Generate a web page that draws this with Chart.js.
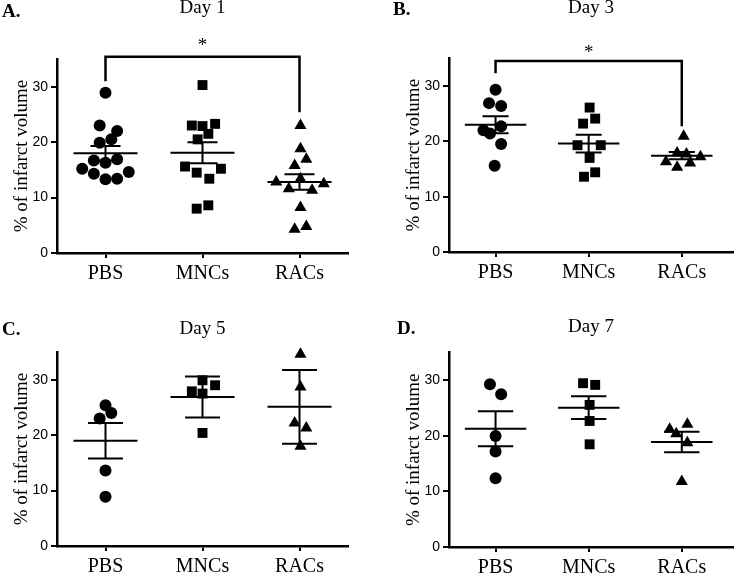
<!DOCTYPE html>
<html>
<head>
<meta charset="utf-8">
<script src="https://cdn.jsdelivr.net/npm/chart.js@4"></script>
<style>
  body { margin: 0; background: #fff; }
  canvas { position: absolute; }
</style>
</head>
<body>
<canvas id="day1" width="370" height="290" style="left:0;top:0"></canvas>
<canvas id="day3" width="370" height="290" style="left:370px;top:0"></canvas>
<canvas id="day5" width="370" height="285" style="left:0;top:290px"></canvas>
<canvas id="day7" width="370" height="285" style="left:370px;top:290px"></canvas>
<script>
var groups = ['PBS', 'MNCs', 'RACs'];
var yTicks = [0, 10, 20, 30];

// Day 1 (values in %, x offsets are the jitter within each column)
var day1Pbs = [28.9, 23.0, 22.0, 20.5, 19.9, 16.7, 16.3, 16.9, 15.2, 14.3, 14.6, 13.3, 13.4];
var day1PbsX = [0, -0.06, 0.12, 0.06, -0.06, -0.12, 0, 0.12, -0.24, -0.12, 0.24, 0, 0.12];
var day1Mnc = [30.3, 23.0, 22.9, 23.3, 21.5, 20.5, 15.6, 14.5, 13.4, 15.2, 8.0, 8.6];
var day1MncX = [0, -0.11, 0, 0.13, 0.06, -0.05, -0.18, -0.06, 0.07, 0.19, -0.06, 0.06];
var day1Rac = [23.0, 18.8, 16.9, 15.8, 13.4, 12.8, 12.5, 11.6, 11.3, 8.2, 4.3, 4.8];
var day1RacX = [0.01, 0.01, 0.07, -0.05, 0.01, -0.24, 0.25, -0.11, 0.13, 0.01, -0.05, 0.07];
var day1Mean = [18.0, 18.1, 12.8];
var day1Sem = [1.3, 1.9, 1.4];

// Day 3
var day3Pbs = [29.3, 26.9, 26.4, 22.0, 21.4, 22.7, 19.5, 15.6];
var day3PbsX = [0, -0.07, 0.06, -0.13, -0.06, 0.06, 0.06, -0.01];
var day3Mnc = [26.1, 24.1, 23.2, 19.3, 19.3, 17.0, 13.6, 14.4];
var day3MncX = [0.01, 0.07, -0.06, -0.12, 0.13, 0.01, -0.05, 0.07];
var day3Rac = [20.9, 17.9, 17.7, 17.2, 16.3, 15.3, 16.1];
var day3RacX = [0.02, -0.05, 0.05, 0.2, -0.17, -0.05, 0.09];
var day3Mean = [23.0, 19.6, 17.4];
var day3Sem = [1.55, 1.6, 0.65];

// Day 5
var day5Pbs = [25.4, 23.0, 24.0, 13.6, 8.9];
var day5PbsX = [0, -0.06, 0.06, 0, 0];
var day5Mnc = [29.9, 27.9, 29.0, 27.5, 20.4];
var day5MncX = [0, -0.11, 0.13, 0, 0];
var day5Rac = [34.6, 28.7, 22.2, 21.3, 18.0];
var day5RacX = [0.01, 0.01, -0.05, 0.07, 0.01];
var day5Mean = [19.0, 26.9, 25.1];
var day5Sem = [3.2, 3.7, 6.65];

// Day 7
var day7Pbs = [29.3, 27.5, 20.0, 17.2, 12.4];
var day7PbsX = [-0.06, 0.06, 0, 0, 0];
var day7Mnc = [29.5, 29.2, 25.6, 22.7, 18.5];
var day7MncX = [-0.06, 0.07, 0.01, 0.01, 0.01];
var day7Rac = [21.2, 20.4, 22.1, 18.8, 11.8];
var day7RacX = [-0.13, -0.06, 0.06, 0.06, 0];
var day7Mean = [21.3, 25.1, 18.9];
var day7Sem = [3.15, 2.05, 1.85];

var serif = 'Liberation Serif';

// mean line, SEM whiskers, significance bracket and panel letter
var panelExtras = {
  id: 'panelExtras',
  afterDatasetsDraw: function(chart, args, opts) {
    var ctx = chart.ctx, x = chart.scales.x, y = chart.scales.y;
    ctx.save();
    ctx.strokeStyle = '#000';
    ctx.lineWidth = 2;
    opts.mean.forEach(function(m, i) {
      var s = opts.sem[i];
      ctx.beginPath();
      ctx.moveTo(x.getPixelForValue(i - 0.33), y.getPixelForValue(m));
      ctx.lineTo(x.getPixelForValue(i + 0.33), y.getPixelForValue(m));
      ctx.moveTo(x.getPixelForValue(i), y.getPixelForValue(m - s));
      ctx.lineTo(x.getPixelForValue(i), y.getPixelForValue(m + s));
      [m - s, m + s].forEach(function(v) {
        ctx.moveTo(x.getPixelForValue(i - opts.cap), y.getPixelForValue(v));
        ctx.lineTo(x.getPixelForValue(i + opts.cap), y.getPixelForValue(v));
      });
      ctx.stroke();
    });
    if (opts.bracket) {
      var b = opts.bracket;
      ctx.lineWidth = 2.5;
      ctx.beginPath();
      ctx.moveTo(x.getPixelForValue(0), y.getPixelForValue(b.left));
      ctx.lineTo(x.getPixelForValue(0), y.getPixelForValue(b.top));
      ctx.lineTo(x.getPixelForValue(2), y.getPixelForValue(b.top));
      ctx.lineTo(x.getPixelForValue(2), y.getPixelForValue(b.right));
      ctx.stroke();
      ctx.fillStyle = '#000';
      ctx.font = '19px ' + serif;
      ctx.textAlign = 'center';
      ctx.textBaseline = 'middle';
      ctx.fillText('*', x.getPixelForValue(1), y.getPixelForValue(b.star));
    }
    ctx.fillStyle = '#000';
    ctx.font = 'bold 19px ' + serif;
    ctx.textAlign = 'left';
    ctx.textBaseline = 'alphabetic';
    ctx.fillText(opts.letter, opts.letterX, opts.letterY);
    ctx.restore();
  }
};

function points(vals, dx, g) {
  return vals.map(function(v, i) { return { x: g + dx[i], y: v }; });
}

function makePanel(id, title, cols, mean, sem, p) {
  var styles = [['circle', 6], ['rect', 7], ['triangle', 7]];
  var datasets = cols.map(function(c, g) {
    return {
      data: points(c[0], c[1], g),
      pointStyle: styles[g][0],
      pointRadius: styles[g][1],
      backgroundColor: '#000',
      borderWidth: 0,
      showLine: false,
      clip: false
    };
  });
  return new Chart(document.getElementById(id), {
    type: 'scatter',
    data: { datasets: datasets },
    plugins: [panelExtras],
    options: {
      responsive: false,
      animation: false,
      events: [],
      layout: { padding: { left: 0, right: p.right, top: 0, bottom: 0 } },
      plugins: {
        legend: { display: false },
        tooltip: { enabled: false },
        title: {
          display: true,
          text: title,
          fullSize: false,
          color: '#000',
          font: { family: serif, size: 19, weight: 'normal', lineHeight: 0.8 },
          padding: { top: p.titleTop, bottom: p.titleBottom }
        },
        panelExtras: {
          mean: mean, sem: sem, cap: p.cap, bracket: p.bracket,
          letter: p.letter, letterX: p.letterX, letterY: p.letterY
        }
      },
      scales: {
        x: {
          type: 'linear',
          min: -0.5,
          max: p.xMax,
          afterBuildTicks: function(s) { s.ticks = groups.map(function(g, i) { return { value: i }; }); },
          afterFit: function(s) { s.height = p.xHeight; },
          ticks: {
            callback: function(v) { return groups[v]; },
            color: '#000',
            font: { family: serif, size: 20 },
            padding: 4,
            maxRotation: 0,
            autoSkip: false
          },
          grid: { drawOnChartArea: false, drawTicks: true, tickLength: 5, color: '#000', lineWidth: 2 },
          border: { color: '#000', width: 2.5 }
        },
        y: {
          min: 0,
          max: 35,
          afterBuildTicks: function(s) { s.ticks = yTicks.map(function(v) { return { value: v }; }); },
          afterFit: function(s) { s.width = p.left; },
          ticks: { color: '#000', font: { family: 'Liberation Sans', size: 14 }, padding: 3 },
          grid: { drawOnChartArea: false, drawTicks: true, tickLength: 6, color: '#000', lineWidth: 2 },
          border: { color: '#000', width: 2.5 },
          title: {
            display: true,
            text: '% of infarct volume',
            color: '#000',
            font: { family: serif, size: 19 },
            padding: { top: p.yTitlePad, bottom: 0 }
          }
        }
      }
    }
  });
}

makePanel('day1', 'Day 1',
  [[day1Pbs, day1PbsX], [day1Mnc, day1MncX], [day1Rac, day1RacX]], day1Mean, day1Sem,
  { left: 57, right: 22, xMax: 2.5, xHeight: 37, titleTop: 0, titleBottom: 43.8, yTitlePad: 11,
    cap: 0.155, letter: 'A.', letterX: 2, letterY: 16.5,
    bracket: { top: 35.4, left: 31.0, right: 25.4, star: 37.3 } });

makePanel('day3', 'Day 3',
  [[day3Pbs, day3PbsX], [day3Mnc, day3MncX], [day3Rac, day3RacX]], day3Mean, day3Sem,
  { left: 79, right: 0, xMax: 2.55, xHeight: 38, titleTop: 0, titleBottom: 43.1, yTitlePad: 33,
    cap: 0.14, letter: 'B.', letterX: 23, letterY: 15,
    bracket: { top: 34.5, left: 32.3, right: 22.7, star: 35.9 } });

makePanel('day5', 'Day 5',
  [[day5Pbs, day5PbsX], [day5Mnc, day5MncX], [day5Rac, day5RacX]], day5Mean, day5Sem,
  { left: 57, right: 22, xMax: 2.5, xHeight: 29, titleTop: 31, titleBottom: 15.8, yTitlePad: 11,
    cap: 0.18, letter: 'C.', letterX: 2, letterY: 45, bracket: null });

makePanel('day7', 'Day 7',
  [[day7Pbs, day7PbsX], [day7Mnc, day7MncX], [day7Rac, day7RacX]], day7Mean, day7Sem,
  { left: 79, right: 0, xMax: 2.55, xHeight: 28, titleTop: 29.3, titleBottom: 18.2, yTitlePad: 33,
    cap: 0.19, letter: 'D.', letterX: 27, letterY: 43.5, bracket: null });
</script>
</body>
</html>
